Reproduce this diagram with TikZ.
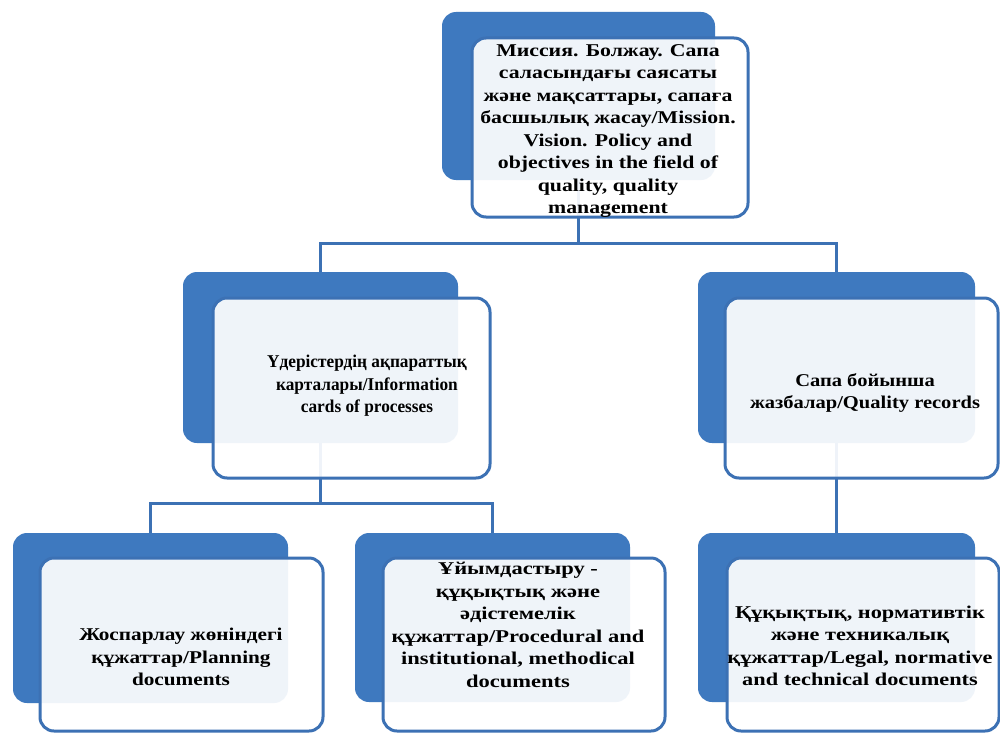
\documentclass[tikz,border=0pt]{standalone}
\usepackage{fontspec}
\setmainfont{Liberation Serif}
\newfontfamily\fA[FakeStretch=1.21]{Liberation Serif}
\newfontfamily\fB[FakeStretch=0.96]{Liberation Serif}
\newfontfamily\fC[FakeStretch=1.14]{Liberation Serif}
\newfontfamily\fD[FakeStretch=1.18]{Liberation Serif}
\newfontfamily\fE[FakeStretch=1.25]{Liberation Serif}
\newfontfamily\fF[FakeStretch=1.24]{Liberation Serif}
\definecolor{backblue}{RGB}{62,121,191}
\definecolor{lineblue}{RGB}{60,113,180}
\tikzset{
  backbox/.style={draw=none, fill=backblue, rounded corners=14pt, inner sep=0pt, rectangle},
  frontbox/.style={draw=lineblue, line width=3pt, fill=white, fill opacity=0.92, draw opacity=1, rounded corners=14pt, inner sep=0pt, rectangle},
  txt/.style={align=center, font=\fontsize{18}{22.5}\selectfont\bfseries, inner sep=0pt, text=black},
  conn/.style={draw=lineblue, line width=3pt}
}
\begin{document}
\begin{tikzpicture}[x=1pt,y=-1pt]
\useasboundingbox (0,0) rectangle (1000,733);
\fill[white] (0,0) rectangle (1000,733);
\coordinate (bus1) at (578.5,243);
\coordinate (bus2) at (320.5,503);
% back boxes
\node[backbox, minimum width=273pt, minimum height=168pt] (tb) at (578.5,96) {};
\node[backbox, minimum width=275pt, minimum height=171pt] (mlb) at (320.5,357.5) {};
\node[backbox, minimum width=277pt, minimum height=171pt] (mrb) at (836.5,357.5) {};
\node[backbox, minimum width=275pt, minimum height=170pt] (blb) at (150.5,618) {};
\node[backbox, minimum width=275pt, minimum height=169pt] (bmb) at (492.5,617.5) {};
\node[backbox, minimum width=277pt, minimum height=169pt] (brb) at (836.5,617.5) {};
% connectors
\draw[conn] (tb.south) -- (bus1);
\draw[conn] (bus1) -| (mlb.north);
\draw[conn] (bus1) -| (mrb.north);
\draw[conn] (mlb.south) -- (bus2);
\draw[conn] (bus2) -| (blb.north);
\draw[conn] (bus2) -| (bmb.north);
\draw[conn] (mrb.south) -- (brb.north);
% front boxes
\node[frontbox, minimum width=276pt, minimum height=179pt] (tf) at (610,127.5) {};
\node[frontbox, minimum width=277pt, minimum height=180pt] (mlf) at (351.5,388) {};
\node[frontbox, minimum width=273pt, minimum height=180pt] (mrf) at (861.5,388) {};
\node[frontbox, minimum width=283pt, minimum height=173pt] (blf) at (181.5,644.5) {};
\node[frontbox, minimum width=282pt, minimum height=173pt] (bmf) at (524,644.5) {};
\node[frontbox, minimum width=272pt, minimum height=173pt] (brf) at (863,644.5) {};
% texts
\node[txt, font=\fA\fontsize{18}{22.5}\selectfont\bfseries] (t1) at (608,131) {Миссия. Болжау. Сапа\\саласындағы саясаты\\және мақсаттары, сапаға\\басшылық жасау/Mission.\\Vision. Policy and\\objectives in the field of\\quality, quality\\management};
\node[txt, font=\fB\fontsize{18}{22.5}\selectfont\bfseries] (t2) at (367,386) {Үдерістердің ақпараттық\\карталары/Information\\cards of processes};
\node[txt, font=\fC\fontsize{18}{22.5}\selectfont\bfseries] (t3) at (865,393) {Сапа бойынша\\жазбалар/Quality records};
\node[txt, font=\fD\fontsize{18}{22.5}\selectfont\bfseries] (t4) at (181,657) {Жоспарлау жөніндегі\\құжаттар/Planning\\documents};
\node[txt, font=\fE\fontsize{18}{22.5}\selectfont\bfseries] (t5) at (518,625) {Ұйымдастыру -\\құқықтық және\\әдістемелік\\құжаттар/Procedural and\\institutional, methodical\\documents};
\node[txt, font=\fF\fontsize{18}{22.5}\selectfont\bfseries] (t6) at (860,646) {Құқықтық, нормативтік\\және техникалық\\құжаттар/Legal, normative\\and technical documents};
\end{tikzpicture}
\end{document}
